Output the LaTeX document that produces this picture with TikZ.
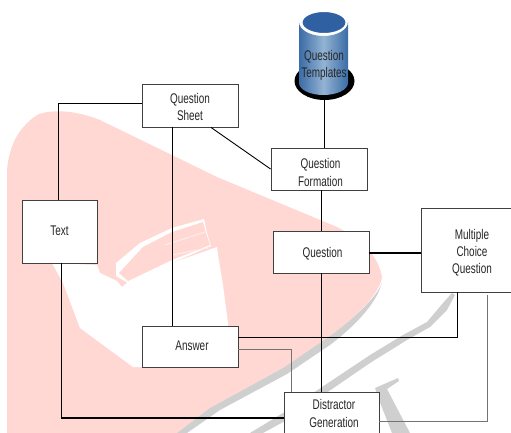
\documentclass[tikz,border=0pt]{standalone}
\usepackage{fontspec}
\setmainfont[FakeStretch=0.71]{Liberation Sans}
\usetikzlibrary{calc}
\definecolor{wmpink}{HTML}{FFD8D3}
\definecolor{wmgray}{HTML}{CFCFCF}
\definecolor{boxedge}{HTML}{404040}
\definecolor{dbedge}{HTML}{3A6CA6}
\definecolor{dbmid}{HTML}{93B3D3}
\definecolor{dbtop}{HTML}{2F60A2}
\tikzset{
  blockbox/.style={draw=boxedge,fill=white,line width=.9pt,inner sep=0pt},
  blocktext/.style={align=center,inner sep=0pt,font=\fontsize{14}{17.2}\selectfont,text=black!85},
  link/.style={line width=.9pt},
  heavylink/.style={line width=2pt},
  greylink/.style={draw=black!55,line width=.8pt}
}

\begin{document}
\begin{tikzpicture}[x=1pt,y=-1pt]
\useasboundingbox (0,0) rectangle (511,433);
% watermark
\fill[wmpink] (7,433) -- (7,170) .. controls (9,150) and (15,130) .. (37,115)
  .. controls (50,109) and (75,110) .. (100,120) -- (217,177) -- (337,227)
  .. controls (362,240) and (378,255) .. (382,277)
  .. controls (380,292) and (360,315) .. (327,338) -- (283,368) -- (210,408) -- (177,433) -- cycle;
\fill[white] (52,263) -- (97,265) -- (100,273) -- (117,281) -- (122,287) -- (128,282)
  -- (172,263) -- (217,247) -- (218,255) -- (223,285) -- (228,323) -- (229,367) -- (133,367)
  -- (80,328) -- (63,283) -- cycle;
\fill[white] (116,263) -- (140,243) -- (172,228) -- (204,219) -- (207,233) -- (211,246)
  -- (172,263) -- (128,283) -- (116,276) -- cycle;
\fill[wmpink] (119,273) -- (143,247) -- (172,232) -- (203,222) -- (206,233) -- (210,245)
  -- (172,260) -- (128,281) -- cycle;
\draw[white!55!wmpink,line width=1pt] (165,245) -- (205,232);
\draw[white!55!wmpink,line width=1pt] (172,255) -- (208,248);
% gray sweeps
\fill[wmgray] (382,282) .. controls (380,292) and (360,315) .. (327,338) -- (283,368) -- (210,408)
  -- (177,433) -- (187,433) -- (220,410) -- (287,374) -- (330,345) .. controls (360,322) and (378,300) .. (382,282) -- cycle;
\fill[wmgray] (452,293) -- (443,303) -- (427,322) -- (403,335) -- (370,355) -- (283,413) -- (250,433)
  -- (263,433) -- (287,420) -- (370,363) -- (407,340) -- (430,327) -- (447,310) -- (455,295) -- cycle;
\fill[wmgray] (398,378) -- (399,381) -- (387,389) -- (410,433) -- (392,433) -- (379,400) -- (375,388) -- cycle;
% database
\fill[black] (324.5,81) ellipse (30 and 19);
\shade[left color=dbedge,right color=dbedge,middle color=dbmid]
  (299,22) -- (299,83) arc (180:0:24.5 and 12) -- (348,22) arc (0:180:24.5 and 14) -- cycle;
\draw[white,fill=dbtop,line width=1pt] (324,22.5) ellipse (22 and 11);
\node[blocktext] (templates) at (324,65) {Question\\Templates};
\coordinate (dbbase) at (324,99);
% blocks
\node[blockbox,minimum width=96pt,minimum height=43pt] (sheet) at (190,105.5) {};
\node[blocktext] (sheettext) at (190,107) {Question\\Sheet};
\node[blockbox,minimum width=96pt,minimum height=42pt] (formation) at (319,169) {};
\node[blocktext] (formationtext) at (320.5,172.5) {Question\\Formation};
\node[blockbox,minimum width=75pt,minimum height=63pt] (text) at (59.5,231.5) {};
\node[blocktext] (texttext) at (59.5,231) {Text};
\node[blockbox,minimum width=96pt,minimum height=42pt] (question) at (321,252) {};
\node[blocktext] (questiontext) at (322.5,254) {Question};
\node[blockbox,minimum width=102pt,minimum height=84pt] (mcq) at (472,250) {};
\node[blocktext] (mcqtext) at (472,252.5) {Multiple\\Choice\\Question};
\node[blockbox,minimum width=96pt,minimum height=41pt] (answer) at (190,346.5) {};
\node[blocktext] (answertext) at (192,345.5) {Answer};
\node[blockbox,minimum width=95pt,minimum height=43pt] (distractor) at (331.5,413.5) {};
\node[blocktext] (distractortext) at (334,413.5) {Distractor\\Generation};
% connectors
\draw[link] ([yshift=2.5pt]sheet.west) -| ([xshift=-1.5pt]text.north);
\draw[link] ([xshift=21pt]sheet.south) -- (formation.west);
\draw[link] ([xshift=-18pt]sheet.south) -- ([xshift=-18pt]answer.north);
\draw[link] (dbbase) -- ([xshift=5pt]formation.north);
\draw[link] ([xshift=2pt]formation.south) -- (question.north);
\draw[link] (question.south) -- ([xshift=-10.5pt]distractor.north);
\draw[heavylink] ([yshift=-1pt]question.east) -- ([yshift=-3pt]mcq.west);
\draw[link] ([xshift=2pt]text.south) |- coordinate (tcorner) ([yshift=-4.5pt]distractor.west);
\draw[heavylink] (tcorner) -- ([yshift=-4.5pt]distractor.west);
\draw[link] ([yshift=9.5pt]answer.east) -| ([xshift=-15pt]mcq.south);
\draw[greylink] ([yshift=-2.5pt]answer.east) -| ([xshift=-40pt]distractor.north);
\draw[greylink] ([yshift=-7.5pt]distractor.east) -| ([xshift=15pt,yshift=-3pt]mcq.south);
\end{tikzpicture}
\end{document}
